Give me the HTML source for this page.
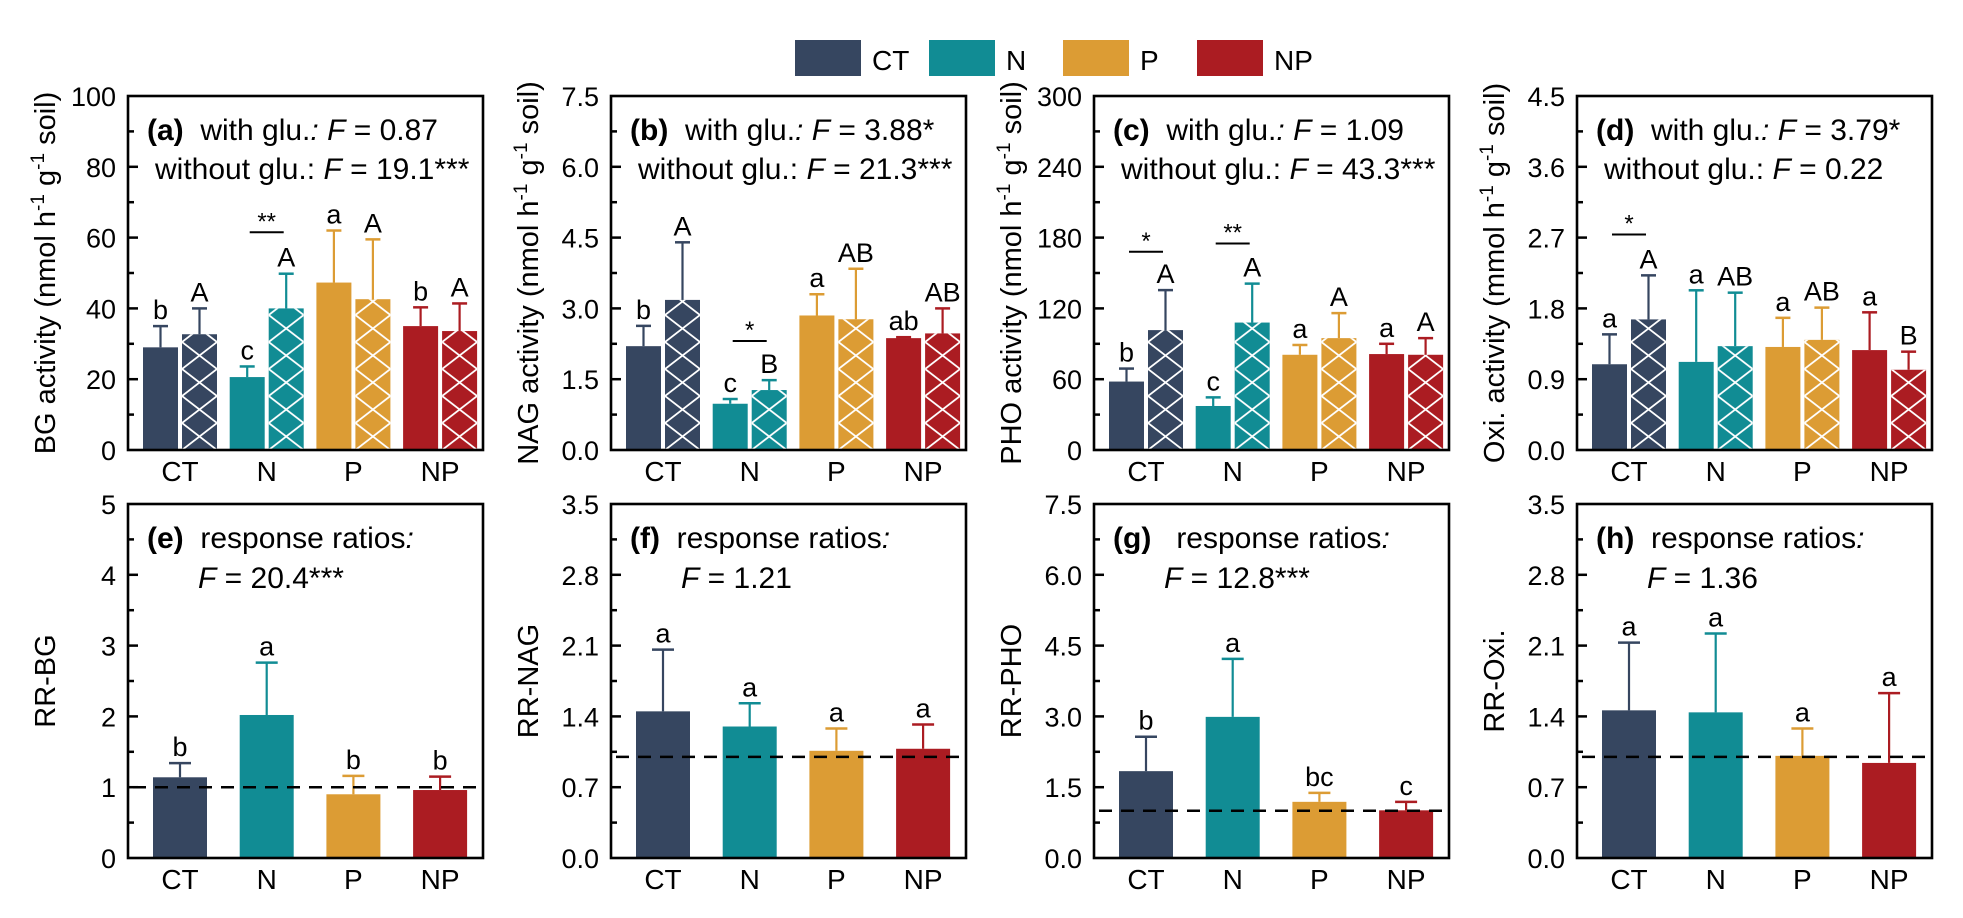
<!DOCTYPE html>
<html><head><meta charset="utf-8">
<style>
html,body{margin:0;padding:0;background:#fff;}
svg{display:block;font-family:"Liberation Sans",Arial,sans-serif;}
svg text{white-space:pre;}
</style></head>
<body>
<svg id="chart" width="1963" height="918" viewBox="0 0 1963 918" xmlns="http://www.w3.org/2000/svg">
<g id="legend"></g>
<g id="panels"></g>
</svg>
<script>
// ---------- data ----------
const categories = ["CT","N","P","NP"];
const colors = ["#364660","#118c94","#dc9c34","#ab1c22"];
const bgWith = [29, 20.6, 47.3, 35];
const bgWithErr = [6, 3, 14.7, 5.3];
const bgWithout = [32.7, 40, 42.6, 33.6];
const bgWithoutErr = [7.3, 9.8, 16.9, 7.8];
const nagWith = [2.2, 0.98, 2.85, 2.37];
const nagWithErr = [0.43, 0.1, 0.45, 0.02];
const nagWithout = [3.18, 1.27, 2.77, 2.47];
const nagWithoutErr = [1.22, 0.21, 1.07, 0.53];
const phoWith = [58, 37.3, 80.7, 81.3];
const phoWithErr = [11, 7.3, 8.3, 8.7];
const phoWithout = [101.6, 108, 94.8, 80.7];
const phoWithoutErr = [33.9, 33, 21.2, 14.1];
const oxiWith = [1.09, 1.12, 1.31, 1.27];
const oxiWithErr = [0.38, 0.91, 0.37, 0.48];
const oxiWithout = [1.66, 1.32, 1.40, 1.02];
const oxiWithoutErr = [0.56, 0.68, 0.41, 0.23];
const bgLettersWith = ["b","c","a","b"];
const bgLettersWithout = ["A","A","A","A"];
const nagLettersWith = ["b","c","a","ab"];
const nagLettersWithout = ["A","B","AB","AB"];
const phoLettersWith = ["b","c","a","a"];
const phoLettersWithout = ["A","A","A","A"];
const oxiLettersWith = ["a","a","a","a"];
const oxiLettersWithout = ["A","AB","AB","B"];
const bgSig = [[1, 61.5, "**"]];
const nagSig = [[1, 2.31, "*"]];
const phoSig = [[0, 168, "*"], [1, 175, "**"]];
const oxiSig = [[0, 2.74, "*"]];
const rrBG = [1.14, 2.02, 0.90, 0.96];
const rrBGErr = [0.20, 0.74, 0.26, 0.19];
const rrNAG = [1.45, 1.30, 1.06, 1.08];
const rrNAGErr = [0.61, 0.23, 0.22, 0.24];
const rrPHO = [1.84, 2.99, 1.19, 1.01];
const rrPHOErr = [0.73, 1.23, 0.19, 0.18];
const rrOxi = [1.46, 1.44, 1.01, 0.94];
const rrOxiErr = [0.67, 0.78, 0.27, 0.69];
const rrBGLetters = ["b","a","b","b"];
const rrNAGLetters = ["a","a","a","a"];
const rrPHOLetters = ["b","a","bc","c"];
const rrOxiLetters = ["a","a","a","a"];
const bgTicks = [0,20,40,60,80,100];
const nagTicks = [0,1.5,3,4.5,6,7.5];
const phoTicks = [0,60,120,180,240,300];
const oxiTicks = [0,0.9,1.8,2.7,3.6,4.5];
const rrBGTicks = [0,1,2,3,4,5];
const rrNAGTicks = [0,0.7,1.4,2.1,2.8,3.5];
const rrPHOTicks = [0,1.5,3,4.5,6,7.5];
const rrOxiTicks = [0,0.7,1.4,2.1,2.8,3.5];
const bgTickLabels = ["0","20","40","60","80","100"];
const nagTickLabels = ["0.0","1.5","3.0","4.5","6.0","7.5"];
const phoTickLabels = ["0","60","120","180","240","300"];
const oxiTickLabels = ["0.0","0.9","1.8","2.7","3.6","4.5"];
const rrBGTickLabels = ["0","1","2","3","4","5"];
const rrNAGTickLabels = ["0.0","0.7","1.4","2.1","2.8","3.5"];
const rrPHOTickLabels = ["0.0","1.5","3.0","4.5","6.0","7.5"];
const rrOxiTickLabels = ["0.0","0.7","1.4","2.1","2.8","3.5"];

// ---------- drawing ----------
const NS = "http://www.w3.org/2000/svg";
function mk(tag, attrs, parent, text){
  const e = document.createElementNS(NS, tag);
  for (const k in attrs) e.setAttribute(k, attrs[k]);
  if (text !== undefined) e.textContent = text;
  parent.appendChild(e);
  return e;
}
const PW = 355, TICKFS = 27, LETFS = 27, ANNFS = 30, TITLEFS = 29, XFS = 28;

const lg = document.getElementById("legend");
const legendX = [795, 929, 1063, 1197];
categories.forEach((c, i) => {
  const r = mk("rect", {x: legendX[i], y: 40, width: 66, height: 36, fill: colors[i]}, lg);
  
  
  const t = mk("text", {x: legendX[i] + 77, y: 70, "font-size": 28}, lg, c);
  
  
});

function drawPanel(cfg){
  const g = mk("g", {}, document.getElementById("panels"));
  
  
  const x0 = cfg.x0, top = cfg.top, bot = top + 354;
  const max = cfg.ticks[cfg.ticks.length - 1];
  const yS = v => bot - v / max * (bot - top);
  const cx = i => x0 + 52 + i * 86.7;
  cfg.ticks.forEach((t, i) => {
    const y = yS(t);
    if (i > 0 && i < cfg.ticks.length - 1) mk("line", {x1: x0, x2: x0 + 10, y1: y, y2: y, stroke: "#000", "stroke-width": 2.5}, g);
    if (i < cfg.ticks.length - 1) {
      const ym = yS((t + cfg.ticks[i + 1]) / 2);
      mk("line", {x1: x0, x2: x0 + 6, y1: ym, y2: ym, stroke: "#000", "stroke-width": 2.5}, g);
    }
    const tl = mk("text", {x: x0 - 12, y: y + 10, "font-size": TICKFS, "text-anchor": "end"}, g, cfg.tickLabels[i]);
    
    
  });
  const ty = (top + bot) / 2, tx = x0 - 73;
  const at = mk("text", {x: tx, y: ty, "font-size": TITLEFS, "text-anchor": "middle", transform: `rotate(-90 ${tx} ${ty})`}, g);
  
  
  if (cfg.unit) {
    mk("tspan", {}, at, cfg.title + " (" + cfg.unit + " h");
    mk("tspan", {dy: -11, "font-size": 19}, at, "-1");
    mk("tspan", {dy: 11}, at, " g");
    mk("tspan", {dy: -11, "font-size": 19}, at, "-1");
    mk("tspan", {dy: 11}, at, " soil)");
  } else {
    at.textContent = cfg.title;
  }
  const drawBar = (x, w, v, err, col, hatch, letter, name, capW) => {
    const y = yS(v);
    const b = mk("rect", {x: x, y: y, width: w, height: bot - y, fill: col}, g);
    
    
    if (hatch) {
      const pid = "h" + name + cfg.id;
      const p = mk("pattern", {id: pid, patternUnits: "userSpaceOnUse", x: x, y: bot, width: w, height: 27}, g);
      mk("path", {d: `M0,0 L${w},27 M${w},0 L0,27`, stroke: "#fff", "stroke-width": 1.8, fill: "none"}, p);
      mk("rect", {x: x, y: y, width: w, height: bot - y, fill: `url(#${pid})`}, g);
    }
    const yc = yS(v + err), mx = x + w / 2;
    mk("line", {x1: mx, x2: mx, y1: y, y2: yc, stroke: col, "stroke-width": 2.2}, g);
    mk("line", {x1: mx - capW / 2, x2: mx + capW / 2, y1: yc, y2: yc, stroke: col, "stroke-width": 2.5}, g);
    const lt = mk("text", {x: mx, y: yc - 7, "font-size": LETFS, "text-anchor": "middle"}, g, letter);
    
    
  };
  categories.forEach((c, i) => {
    if (cfg.without) {
      drawBar(cx(i) - 37, 35, cfg.with[i], cfg.withErr[i], colors[i], false, cfg.lw[i], "bar-with-glu-" + c.toLowerCase(), 15);
      drawBar(cx(i) + 2, 35, cfg.without[i], cfg.withoutErr[i], colors[i], true, cfg.lwo[i], "bar-without-glu-" + c.toLowerCase(), 15);
    } else {
      drawBar(cx(i) - 27, 54, cfg.with[i], cfg.withErr[i], colors[i], false, cfg.lw[i], "bar-rr-" + c.toLowerCase(), 22);
    }
    const xl = mk("text", {x: cx(i), y: bot + 31, "font-size": XFS, "text-anchor": "middle"}, g, c);
    
    
  });
  (cfg.sig || []).forEach(s => {
    const y = yS(s[1]), c = cx(s[0]);
    mk("line", {x1: c - 17, x2: c + 17, y1: y, y2: y, stroke: "#000", "stroke-width": 2}, g);
    const st = mk("text", {x: c, y: y - 3, "font-size": 24, "text-anchor": "middle"}, g, s[2]);
    
    
  });
  if (!cfg.without) {
    const y1 = yS(1);
    const d = mk("line", {x1: x0, x2: x0 + PW, y1: y1, y2: y1, stroke: "#000", "stroke-width": 2.5, "stroke-dasharray": "13 9", "stroke-dashoffset": -5}, g);
    
    
  }
  mk("rect", {x: x0, y: top, width: PW, height: bot - top, fill: "none", stroke: "#000", "stroke-width": 2.6}, g);
  const a1 = mk("text", {x: x0 + 19, y: top + 44, "font-size": ANNFS}, g);
  
  
  mk("tspan", {"font-weight": "bold"}, a1, "(" + cfg.id + ")");
  if (cfg.without) {
    mk("tspan", {}, a1, "  with glu.");
    mk("tspan", {"font-style": "italic"}, a1, ": F");
    mk("tspan", {}, a1, " = " + cfg.f1);
    const a2 = mk("text", {x: x0 + 27, y: top + 83, "font-size": ANNFS}, g);
    
    
    mk("tspan", {}, a2, "without glu.: ");
    mk("tspan", {"font-style": "italic"}, a2, "F");
    mk("tspan", {}, a2, " = " + cfg.f2);
  } else {
    mk("tspan", {}, a1, cfg.id === "g" ? "   response ratios" : "  response ratios");
    mk("tspan", {"font-style": "italic"}, a1, ":");
    const a2 = mk("text", {x: x0 + 70, y: top + 84, "font-size": ANNFS}, g);
    
    
    mk("tspan", {"font-style": "italic"}, a2, "F");
    mk("tspan", {}, a2, " = " + cfg.f1);
  }
}

const XS = [128, 611, 1094, 1577];
drawPanel({id:"a", x0:XS[0], top:96, ticks:bgTicks, tickLabels:bgTickLabels, title:"BG activity", unit:"nmol", with:bgWith, withErr:bgWithErr, without:bgWithout, withoutErr:bgWithoutErr, lw:bgLettersWith, lwo:bgLettersWithout, sig:bgSig, f1:"0.87", f2:"19.1***"});
drawPanel({id:"b", x0:XS[1], top:96, ticks:nagTicks, tickLabels:nagTickLabels, title:"NAG activity", unit:"nmol", with:nagWith, withErr:nagWithErr, without:nagWithout, withoutErr:nagWithoutErr, lw:nagLettersWith, lwo:nagLettersWithout, sig:nagSig, f1:"3.88*", f2:"21.3***"});
drawPanel({id:"c", x0:XS[2], top:96, ticks:phoTicks, tickLabels:phoTickLabels, title:"PHO activity", unit:"nmol", with:phoWith, withErr:phoWithErr, without:phoWithout, withoutErr:phoWithoutErr, lw:phoLettersWith, lwo:phoLettersWithout, sig:phoSig, f1:"1.09", f2:"43.3***"});
drawPanel({id:"d", x0:XS[3], top:96, ticks:oxiTicks, tickLabels:oxiTickLabels, title:"Oxi. activity", unit:"mmol", with:oxiWith, withErr:oxiWithErr, without:oxiWithout, withoutErr:oxiWithoutErr, lw:oxiLettersWith, lwo:oxiLettersWithout, sig:oxiSig, f1:"3.79*", f2:"0.22"});
drawPanel({id:"e", x0:XS[0], top:504, ticks:rrBGTicks, tickLabels:rrBGTickLabels, title:"RR-BG", with:rrBG, withErr:rrBGErr, lw:rrBGLetters, f1:"20.4***"});
drawPanel({id:"f", x0:XS[1], top:504, ticks:rrNAGTicks, tickLabels:rrNAGTickLabels, title:"RR-NAG", with:rrNAG, withErr:rrNAGErr, lw:rrNAGLetters, f1:"1.21"});
drawPanel({id:"g", x0:XS[2], top:504, ticks:rrPHOTicks, tickLabels:rrPHOTickLabels, title:"RR-PHO", with:rrPHO, withErr:rrPHOErr, lw:rrPHOLetters, f1:"12.8***"});
drawPanel({id:"h", x0:XS[3], top:504, ticks:rrOxiTicks, tickLabels:rrOxiTickLabels, title:"RR-Oxi.", with:rrOxi, withErr:rrOxiErr, lw:rrOxiLetters, f1:"1.36"});
</script>
</body></html>
